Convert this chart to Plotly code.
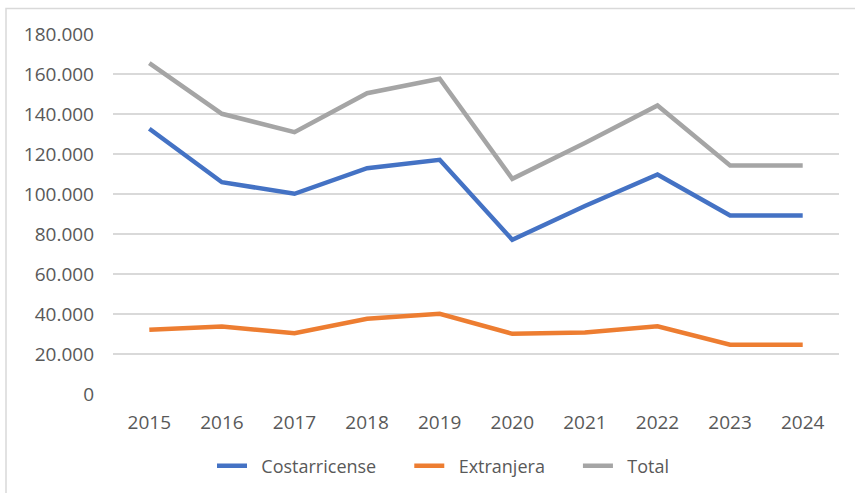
import plotly.graph_objects as go

years = ["2015", "2016", "2017", "2018", "2019", "2020", "2021", "2022", "2023", "2024"]
costarricense = [132600, 105900, 100100, 112900, 117100, 77100, 94000, 109750, 89250, 89250]
extranjera = [32100, 33750, 30400, 37600, 40100, 30100, 30800, 33900, 24600, 24600]
total = [165400, 140100, 130900, 150400, 157600, 107600, 125500, 144250, 114250, 114250]
y_ticks = [0, 20000, 40000, 60000, 80000, 100000, 120000, 140000, 160000, 180000]
y_tick_text = ["0", "20.000", "40.000", "60.000", "80.000", "100.000", "120.000", "140.000", "160.000", "180.000"]
series_names = ["Costarricense", "Extranjera", "Total"]

W, H = 855, 493
L, R, T, B = 113, 16, 34, 99
pw, ph = W - L - R, H - T - B

fam = "Open Sans, Liberation Sans, Arial"
tick_font = dict(family=fam, size=19, color="#595959")
leg_font = dict(family=fam, size=18, color="#595959")

NB = "\u00a0"
fig = go.Figure()
for i, (name, vals, col) in enumerate(zip(series_names, [costarricense, extranjera, total],
                                           ["#4472C4", "#ED7D31", "#A5A5A5"])):
    trail = NB * 6 if i < 2 else ""
    fig.add_trace(go.Scatter(x=years, y=vals, name=NB * 2 + name + trail, mode="lines",
                             line=dict(color=col, width=4.5),
                             hovertemplate=name + ": %{y}<extra></extra>"))

def px_x(p):
    return (p - L) / pw

def px_y(p):
    return (H - B - p) / ph

fig.add_shape(type="rect", xref="paper", yref="paper",
              x0=px_x(6), x1=px_x(870), y0=px_y(8.5), y1=px_y(510),
              line=dict(color="#D9D9D9", width=1.5), fillcolor="rgba(0,0,0,0)", layer="below")

fig.update_layout(
    width=W, height=H,
    margin=dict(l=L, r=R, t=T, b=B, pad=0, autoexpand=False),
    paper_bgcolor="white", plot_bgcolor="white",
    font=tick_font,
    showlegend=True,
    legend=dict(orientation="h", xref="container", yref="container",
                x=212 / W, xanchor="left", y=1 - 466 / H, yanchor="middle",
                font=leg_font, traceorder="normal"),
    xaxis=dict(type="category", range=[-0.5, 9.5], showgrid=False, zeroline=False,
               showline=False, ticks="", tickfont=tick_font, ticklabelstandoff=15),
    yaxis=dict(range=[0, 180000], tickvals=y_ticks, ticktext=y_tick_text,
               showgrid=True, gridcolor="#D9D9D9", gridwidth=1.5, zeroline=False,
               showline=False, ticks="", tickfont=tick_font, ticklabelstandoff=18),
)

fig.write_html("out.html")
